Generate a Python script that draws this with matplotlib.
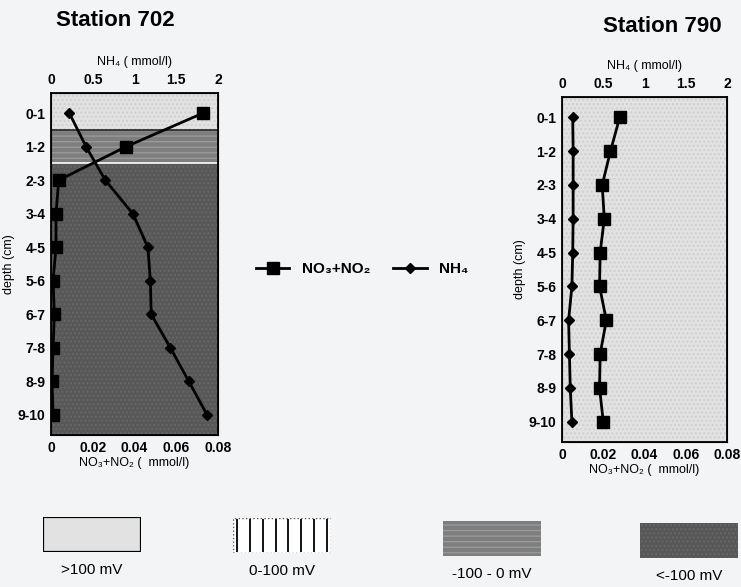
import numpy as np
import matplotlib
matplotlib.use("Agg")
import matplotlib.pyplot as plt
from matplotlib.patches import Rectangle

plt.rcParams['font.family'] = ['Liberation Sans', 'DejaVu Sans']

depths = ["0-1", "1-2", "2-3", "3-4", "4-5", "5-6", "6-7", "7-8", "8-9", "9-10"]

# Station 702
no3_702 = [0.0728, 0.036, 0.0037, 0.0024, 0.0024, 0.001, 0.0016, 0.001, 0.0005, 0.001]
nh4_702 = [0.22, 0.42, 0.65, 0.98, 1.16, 1.19, 1.20, 1.43, 1.65, 1.87]

# Station 790
no3_790 = [0.0280, 0.0235, 0.0195, 0.0205, 0.0185, 0.0182, 0.0215, 0.0185, 0.0182, 0.0200]
nh4_790 = [0.13, 0.135, 0.135, 0.135, 0.13, 0.12, 0.08, 0.09, 0.10, 0.12]

# redox zones (boundaries in depth rows)
zones_702 = [(-0.6, 0.5, '>100 mV'), (0.5, 1.5, '-100 - 0 mV'), (1.5, 9.6, '<-100 mV')]
zones_790 = [(-0.6, 9.6, '>100 mV')]

zone_style = {
    '>100 mV': dict(facecolor='#e2e2e2', edgecolor='#cfcfcf', hatch='....'),
    '0-100 mV': dict(facecolor='white', edgecolor='black', hatch=None),
    '-100 - 0 mV': dict(facecolor='#7e7e7e', edgecolor='#999999', hatch='---'),
    '<-100 mV': dict(facecolor='#575757', edgecolor='#676767', hatch='....'),
}
legend_zones = ['>100 mV', '0-100 mV', '-100 - 0 mV', '<-100 mV']

bg = '#f3f4f6'
fig = plt.figure(figsize=(7.41, 5.87), dpi=100, facecolor=bg)


def panel(rect, no3, nh4, zones, title, title_xy, ms_sq):
    ax = fig.add_axes(rect)
    ypos = np.arange(len(depths))
    for lo, hi, z in zones:
        st = zone_style[z]
        ax.axhspan(lo, hi, facecolor=st['facecolor'], edgecolor=st['edgecolor'],
                   hatch=st['hatch'], lw=0, zorder=0)
    for i, (lo, hi, z) in enumerate(zones[1:]):
        ax.axhline(lo, color='#222222' if i == 0 else 'white', lw=1.2, zorder=1)
    ln1, = ax.plot(no3, ypos, color='black', lw=2, marker='s', ms=ms_sq,
                   zorder=3, label='NO\u2083+NO\u2082')
    ax.set_xlim(0, 0.08)
    ax.set_ylim(9.6, -0.6)
    ax.set_yticks(ypos)
    ax.set_yticklabels(depths, fontweight='bold', fontsize=10)
    ax.set_xticks([0, 0.02, 0.04, 0.06, 0.08])
    ax.set_xticklabels(['0', '0.02', '0.04', '0.06', '0.08'], fontweight='bold', fontsize=10)
    ax.tick_params(length=0, pad=4)
    ax.set_xlabel('NO\u2083+NO\u2082 (  mmol/l)', fontsize=9, labelpad=2)
    ax.set_ylabel('depth (cm)', fontsize=9, labelpad=2)
    for s in ax.spines.values():
        s.set_linewidth(1.3)

    ax2 = ax.twiny()
    ln2, = ax2.plot(nh4, ypos, color='black', lw=2, marker='D', ms=5,
                    zorder=3, label='NH\u2084')
    ax2.set_xlim(0, 2)
    ax2.set_xticks([0, 0.5, 1, 1.5, 2])
    ax2.set_xticklabels(['0', '0.5', '1', '1.5', '2'], fontweight='bold', fontsize=10)
    ax2.tick_params(length=0, pad=4)
    ax2.set_xlabel('NH\u2084 ( mmol/l)', fontsize=9, labelpad=6)
    fig.text(title_xy[0], title_xy[1], title, fontsize=16, fontweight='bold',
             ha='center', va='center')
    return ln1, ln2


W, H = 741, 587
h1, h2 = panel([51 / W, 1 - 435 / H, 167 / W, 342 / H], no3_702, nh4_702, zones_702,
               'Station 702', (115 / W, 1 - 21 / H), 9)
panel([562 / W, 1 - 442 / H, 165 / W, 345 / H], no3_790, nh4_790, zones_790,
      'Station 790', (662 / W, 1 - 26 / H), 8)

fig.legend(handles=[h1, h2], loc='center', bbox_to_anchor=(362 / W, 1 - 269 / H),
           ncol=2, frameon=False, handlelength=2.2, columnspacing=1.5,
           prop={'size': 11, 'weight': 'bold'})

# redox legend swatches
sw_x = [43, 233, 443, 640]
sw_y = [517, 518, 521, 523]
for x0, y0, z in zip(sw_x, sw_y, legend_zones):
    sax = fig.add_axes([x0 / W, 1 - (y0 + 35) / H, 98 / W, 35 / H])
    sax.set_xlim(0, 1)
    sax.set_ylim(0, 1)
    sax.axis('off')
    st = zone_style[z]
    if z == '0-100 mV':
        sax.add_patch(Rectangle((0, 0), 1, 1, facecolor='white', edgecolor='#555555',
                                lw=1, ls=':'))
        sax.vlines(np.linspace(0.04, 0.96, 8), 0.02, 0.98, color='black', lw=1.3)
    elif z == '>100 mV':
        sax.add_patch(Rectangle((0, 0), 1, 1, facecolor=st['facecolor'], edgecolor='black',
                                lw=1.6))
    else:
        sax.add_patch(Rectangle((0, 0), 1, 1, facecolor=st['facecolor'],
                                edgecolor=st['edgecolor'], hatch=st['hatch'], lw=0))
    fig.text((x0 + 49) / W, 1 - (y0 + 53) / H, z, fontsize=11, ha='center', va='center')

fig.savefig('out.png', dpi=100, facecolor=bg)
